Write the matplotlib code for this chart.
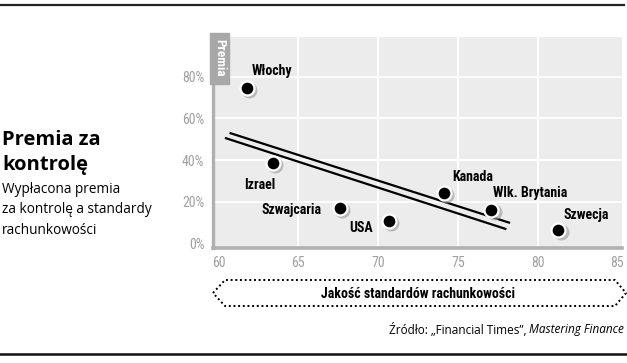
import matplotlib
matplotlib.use("Agg")
import matplotlib.pyplot as plt
from matplotlib import font_manager
from matplotlib.lines import Line2D
from matplotlib.patches import Rectangle
import matplotlib.transforms as mtransforms

# data
countries = ["Włochy", "Izrael", "Szwajcaria", "USA", "Kanada", "Wlk. Brytania", "Szwecja"]
quality = [61.8, 63.4, 67.6, 70.7, 74.1, 77.1, 81.3]
premium = [74.8, 38.8, 17.2, 10.9, 24.1, 16.1, 6.5]
# label offsets in points (dx, dy, ha)
label_pos = [(18, 12, "center"), (-9, -16, "center"), (-13, -2, "right"), (-12, -5, "right"),
             (21, 12, "center"), (28, 12.5, "center"), (20, 11, "center")]

trend_upper_x = [60.76, 78.2]
trend_upper_y = [52.9, 10.0]
trend_lower_x = [60.47, 77.97]
trend_lower_y = [50.5, 7.0]

xticks = [60, 65, 70, 75, 80, 85]
yticks = [0, 20, 40, 60, 80]

# pick a condensed face if one is around, else fall back
installed = {f.name for f in font_manager.fontManager.ttflist}
cond = next((n for n in ["Roboto Condensed", "PT Sans Narrow", "Open Sans Condensed",
                         "Asap Condensed", "Archivo Narrow", "Barlow Condensed"] if n in installed),
            "DejaVu Sans")
COND = [cond, "DejaVu Sans"]
SANS = ["Open Sans", "DejaVu Sans"]

W, H = 627, 363
fig = plt.figure(figsize=(W / 100, H / 100), dpi=100)

def fx(px):
    return px / W

def fy(py):
    return 1 - py / H

ax = fig.add_axes([fx(212.7), fy(248), fx(622) - fx(212.7), fy(37) - fy(248)])
ax.set_facecolor("#ececec")
ax.set_xlim(59.64, 85.28)
ax.set_ylim(-2.2, 99.1)

for v in xticks[1:-1]:
    ax.axvline(v, color="white", lw=1.3, zorder=0)
for v in yticks[1:]:
    ax.axhline(v, color="white", lw=1.3, zorder=0)

for s in ["top", "right"]:
    ax.spines[s].set_visible(False)
ax.spines["left"].set_color("#b0b0b0")
ax.spines["left"].set_linewidth(2.4)
ax.spines["bottom"].set_color("#b0b0b0")
ax.spines["bottom"].set_linewidth(2.6)

ax.set_xticks(xticks)
ax.set_xticklabels([str(v) for v in xticks], family=COND, fontsize=10, color="#a0a0a0")
ax.set_yticks(yticks)
ax.set_yticklabels([f"{v}%" for v in yticks], family=COND, fontsize=10, color="#a0a0a0")
ax.tick_params(length=0, pad=6)

# trend lines
ax.plot(trend_upper_x, trend_upper_y, color="black", lw=1.6, zorder=3)
ax.plot(trend_lower_x, trend_lower_y, color="black", lw=1.6, zorder=3)

# points with a soft shadow
shadow = ax.transData + mtransforms.ScaledTranslation(1.5 / 72, -1.5 / 72, fig.dpi_scale_trans)
ax.plot(quality, premium, "o", ms=11.5, color="#9a9a9a", alpha=0.6, mew=0, transform=shadow, zorder=4)
ax.plot(quality, premium, "o", ms=10, color="black", mec="white", mew=1.6, zorder=5)

for name, x, y, (dx, dy, ha) in zip(countries, quality, premium, label_pos):
    ax.annotate(name, (x, y), xytext=(dx, dy), textcoords="offset points",
                ha=ha, va="center", family=COND, fontweight="bold", fontsize=10, zorder=6)

# "Premia" tab
fig.patches.append(Rectangle((fx(210), fy(84)), fx(229) - fx(210), fy(33) - fy(84),
                             transform=fig.transFigure, color="#a8a8a8", zorder=3))
fig.text(fx(219.5), fy(58), "Premia", rotation=-90, ha="center", va="center",
         color="white", family=COND, fontweight="bold", fontsize=9.5)

# top and bottom rules
fig.add_artist(Line2D([0, fx(624)], [fy(5), fy(5)], color="#222222", lw=1.6))
fig.add_artist(Line2D([0, 1], [fy(354), fy(354)], color="#111111", lw=1.8))

# titles
fig.text(fx(2), fy(145), "Premia za", family=SANS, fontweight="bold", fontsize=14.5, va="baseline")
fig.text(fx(2), fy(170), "kontrolę", family=SANS, fontweight="bold", fontsize=14.5, va="baseline")
for line, base in zip(["Wypłacona premia", "za kontrolę a standardy", "rachunkowości"], [193, 213, 234]):
    fig.text(fx(2), fy(base), line, family=SANS, fontsize=9.8, va="baseline")

# dotted axis-title box
bx = [213, 225, 615, 626, 615, 225, 213]
by = [293, 280, 280, 293, 306, 306, 293]
fig.add_artist(Line2D([fx(v) for v in bx], [fy(v) for v in by], color="black", lw=1.4,
                      linestyle=(0, (1, 1.4))))
fig.text(fx(418), fy(294), "Jakość standardów rachunkowości", ha="center", va="center",
         family=COND, fontweight="bold", fontsize=10)

# source line
it = fig.text(fx(624), fy(330), "Mastering Finance", ha="right", va="center",
              family=SANS, style="italic", fontsize=8.5)
fig.canvas.draw()
bb = it.get_window_extent()
fig.text(bb.x0 / W, fy(330), "Źródło: „Financial Times”, ", ha="right", va="center",
         family=SANS, fontsize=8.5)

fig.savefig("out.png", dpi=100)
